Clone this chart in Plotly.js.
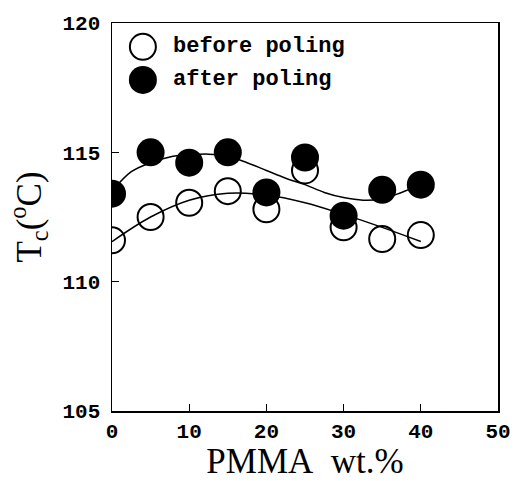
<!DOCTYPE html>
<html>
<head>
<meta charset="utf-8">
<script src="https://cdn.plot.ly/plotly-3.0.1.min.js"></script>
<style>
html,body{margin:0;padding:0;background:#fff;}
#chart{width:515px;height:481px;}
</style>
</head>
<body>
<div id="chart"></div>
<script>
// Measured points
var pmma = [0, 5, 10, 15, 20, 25, 30, 35, 40];
var tcBefore = [111.6, 112.5, 113.05, 113.5, 112.8, 114.3, 112.1, 111.65, 111.8];
var tcAfter  = [113.4, 115.0, 114.6, 115.0, 113.45, 114.8, 112.55, 113.55, 113.75];

// Fitted guide curves
var fitBeforeX = [0, 5, 10, 15, 20, 25, 30, 35, 40];
var fitBeforeY = [111.55, 112.5, 113.15, 113.42, 113.35, 113.05, 112.6, 112.1, 111.55];
var fitAfterX = [0, 2.5, 5, 7.5, 10, 12.5, 15, 17.5, 20, 22.5, 25, 27.5, 30, 32.5, 35, 37.5, 40];
var fitAfterY = [113.5, 114.25, 114.6, 114.82, 114.9, 114.93, 114.85, 114.6, 114.3, 114.0, 113.75, 113.45, 113.25, 113.15, 113.2, 113.45, 113.75];

var legendLabels = ["before poling", "after poling"];

var xTicks = [0, 10, 20, 30, 40, 50];
var yTicks = [105, 110, 115, 120];

var traces = [
  {x: fitBeforeX, y: fitBeforeY, mode: 'lines', line: {color: '#000', width: 1.5, shape: 'spline'}, hoverinfo: 'skip', showlegend: false},
  {x: fitAfterX, y: fitAfterY, mode: 'lines', line: {color: '#000', width: 1.5, shape: 'spline'}, hoverinfo: 'skip', showlegend: false},
  {x: pmma, y: tcBefore, mode: 'markers', name: legendLabels[0],
   marker: {symbol: 'circle-open', size: 26, color: '#000', line: {width: 2, color: '#000'}}, showlegend: false},
  {x: pmma, y: tcAfter, mode: 'markers', name: legendLabels[1],
   marker: {symbol: 'circle', size: 28, color: '#000', line: {width: 0}}, showlegend: false}
];

var tickFont = {family: 'Liberation Mono, monospace', size: 21, color: '#000', weight: 'bold'};
var titleFont = {family: 'Liberation Serif, Times New Roman, serif', size: 35, color: '#000'};

var legX = 4.0, legTextX = 7.6;
var legY = [119.08, 117.8];

var layout = {
  width: 515, height: 481,
  margin: {l: 112, r: 17, t: 23, b: 70},
  paper_bgcolor: '#fff', plot_bgcolor: '#fff',
  showlegend: false,
  xaxis: {
    range: [0, 50], tickvals: xTicks, ticktext: xTicks.map(String),
    ticks: 'inside', ticklen: 7, tickwidth: 1.2, tickcolor: '#000',
    showline: true, linecolor: '#000', linewidth: 1.5, mirror: true,
    showgrid: false, zeroline: false, tickfont: tickFont,
    title: {text: 'PMMA\u00a0\u00a0wt.%', font: titleFont, standoff: 12},
    automargin: false
  },
  yaxis: {
    range: [105, 120], tickvals: yTicks, ticktext: yTicks.map(String),
    ticks: 'inside', ticklen: 7, tickwidth: 1.2, tickcolor: '#000',
    showline: true, linecolor: '#000', linewidth: 1.5, mirror: true,
    showgrid: false, zeroline: false, tickfont: tickFont, ticklabelstandoff: 6,
    title: {text: 'T<sub>c</sub>(<sup>o</sup>C)', font: titleFont, standoff: 10},
    automargin: false
  },
  shapes: [
    {type: 'circle', xref: 'x', yref: 'y', xsizemode: 'pixel', ysizemode: 'pixel',
     xanchor: legX, yanchor: legY[0], x0: -13, x1: 13, y0: -13, y1: 13,
     line: {color: '#000', width: 2}, fillcolor: 'rgba(0,0,0,0)'},
    {type: 'circle', xref: 'x', yref: 'y', xsizemode: 'pixel', ysizemode: 'pixel',
     xanchor: legX, yanchor: legY[1], x0: -14, x1: 14, y0: -14, y1: 14,
     line: {color: '#000', width: 0}, fillcolor: '#000'}
  ],
  annotations: [
    {x: legTextX, y: legY[0], xref: 'x', yref: 'y', text: legendLabels[0], showarrow: false,
     xanchor: 'left', yanchor: 'middle', font: {family: 'Liberation Mono, monospace', size: 22, color: '#000', weight: 'bold'}},
    {x: legTextX, y: legY[1], xref: 'x', yref: 'y', text: legendLabels[1], showarrow: false,
     xanchor: 'left', yanchor: 'middle', font: {family: 'Liberation Mono, monospace', size: 22, color: '#000', weight: 'bold'}}
  ]
};

Plotly.newPlot('chart', traces, layout, {displayModeBar: false, staticPlot: true});
</script>
</body>
</html>
